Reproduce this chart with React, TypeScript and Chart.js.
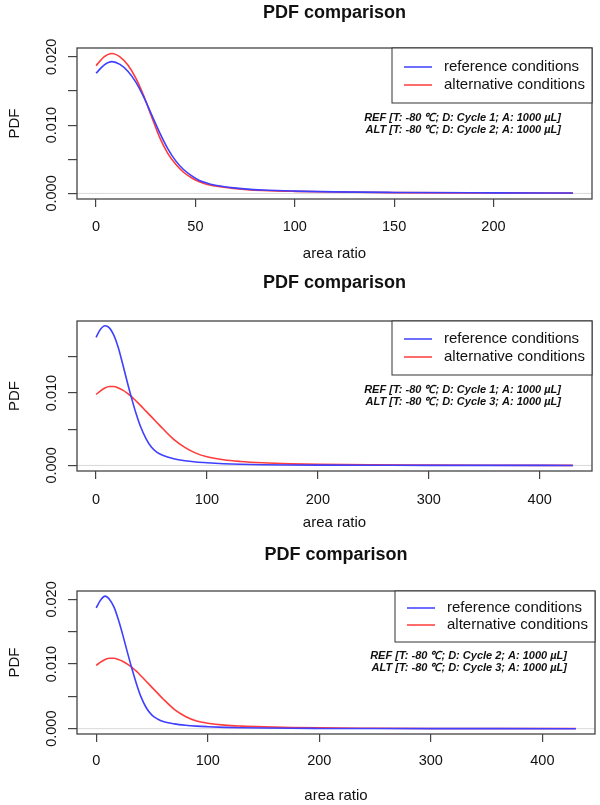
import React, { useEffect, useRef } from "react";
import { Chart, registerables } from "chart.js";

Chart.register(...registerables);

// ---------- data ----------
const p1X = [0, 4, 8, 12, 16, 20, 24, 28, 32, 36, 40, 44, 48, 52, 56, 60, 68, 76, 84, 100, 120, 150, 200, 240];
const p1Ref = [0.0176, 0.0188, 0.0193, 0.0189, 0.0179, 0.0163, 0.0141, 0.0115, 0.0089, 0.0066, 0.0048, 0.0035, 0.0026, 0.0019, 0.0015, 0.0012, 0.00085, 0.00062, 0.00049, 0.00034, 0.00022, 0.00014, 0.00008, 0.00005];
const p1Alt = [0.0187, 0.02, 0.0205, 0.02, 0.0188, 0.0169, 0.0143, 0.0112, 0.0082, 0.0059, 0.0043, 0.0031, 0.0023, 0.0017, 0.0013, 0.0011, 0.00077, 0.00055, 0.00043, 0.0003, 0.0002, 0.00012, 0.00007, 0.00004];

const p2X = [0, 4, 8, 12, 16, 20, 24, 28, 32, 36, 40, 45, 50, 55, 60, 70, 80, 90, 100, 115, 130, 150, 175, 200, 250, 300, 350, 430];
const p2Ref = [0.0177, 0.0188, 0.0193, 0.019, 0.018, 0.0163, 0.014, 0.0116, 0.0093, 0.0072, 0.0054, 0.0037, 0.0025, 0.0018, 0.0014, 0.00092, 0.00064, 0.00047, 0.00036, 0.00024, 0.00016, 0.0001, 0.00006, 0.00004, 0.00002, 0.00001, 0.00001, 0];
const p2Alt = [0.0098, 0.0103, 0.0107, 0.0109, 0.0109, 0.0107, 0.0104, 0.01, 0.0095, 0.0089, 0.0083, 0.0075, 0.0067, 0.0059, 0.0051, 0.0036, 0.0025, 0.0017, 0.0012, 0.00078, 0.00055, 0.00036, 0.00022, 0.00014, 0.00007, 0.00004, 0.00002, 0.00001];

const p3X = [0, 4, 8, 12, 16, 20, 24, 28, 32, 36, 40, 45, 50, 55, 60, 70, 80, 90, 100, 115, 130, 150, 175, 200, 250, 300, 350, 430];
const p3Ref = [0.0187, 0.0199, 0.0205, 0.02, 0.0188, 0.0168, 0.0144, 0.0118, 0.0093, 0.007, 0.005, 0.0032, 0.0021, 0.0015, 0.0011, 0.00075, 0.00054, 0.0004, 0.00031, 0.00021, 0.00015, 0.0001, 0.00006, 0.00004, 0.00002, 0.00001, 0.00001, 0];
const p3Alt = [0.0098, 0.0103, 0.0107, 0.0109, 0.0109, 0.0107, 0.0104, 0.01, 0.0095, 0.0089, 0.0082, 0.0073, 0.0064, 0.0055, 0.0046, 0.003, 0.0019, 0.0012, 0.00085, 0.00055, 0.0004, 0.00028, 0.00018, 0.00012, 0.00007, 0.00004, 0.00003, 0.00002];

const xTicks1 = [0, 50, 100, 150, 200];
const xTicks23 = [0, 100, 200, 300, 400];
const yTicks = [0, 0.005, 0.01, 0.015, 0.02];
const yTickLabels = ["0.000", "", "0.010", "", "0.020"];

const titleText = "PDF comparison";
const xTitle = "area ratio";
const yTitle = "PDF";
const seriesNames = ["reference conditions", "alternative conditions"];
const ann1 = ["REF [T: -80 \u2103; D: Cycle 1; A: 1000 \u00b5L]", "ALT [T: -80 \u2103; D: Cycle 2; A: 1000 \u00b5L]"];
const ann2 = ["REF [T: -80 \u2103; D: Cycle 1; A: 1000 \u00b5L]", "ALT [T: -80 \u2103; D: Cycle 3; A: 1000 \u00b5L]"];
const ann3 = ["REF [T: -80 \u2103; D: Cycle 2; A: 1000 \u00b5L]", "ALT [T: -80 \u2103; D: Cycle 3; A: 1000 \u00b5L]"];

// ---------- style ----------
const FONT = '"Liberation Sans", Arial, Helvetica, sans-serif';
const BLUE = "#3f3fff";
const RED = "#ff3b3b";
const AXIS = "#444";

type PanelCfg = {
  top: number;
  height: number;
  box: { left: number; right: number; top: number; bottom: number };
  xMin: number; xMax: number; yMin: number; yMax: number;
  xTicks: number[];
  x: number[]; ref: number[]; alt: number[];
  ann: string[];
  titleY: number; xLabelY: number; xTitleY: number;
  legH: number; legY: [number, number];
  annRight: number; annY: [number, number];
};

const panels: PanelCfg[] = [
  {
    top: 0, height: 268,
    box: { left: 77, right: 592, top: 48, bottom: 199 },
    xMin: -9.6, xMax: 249.6, yMin: -0.00082, yMax: 0.0213,
    xTicks: xTicks1, x: p1X, ref: p1Ref, alt: p1Alt, ann: ann1,
    titleY: 13, xLabelY: 227, xTitleY: 254,
    legH: 55, legY: [19, 37], annRight: 31, annY: [70, 82],
  },
  {
    top: 268, height: 270,
    box: { left: 77, right: 592, top: 321, bottom: 471 },
    xMin: -17.2, xMax: 447.2, yMin: -0.00077, yMax: 0.01995,
    xTicks: xTicks23, x: p2X, ref: p2Ref, alt: p2Alt, ann: ann2,
    titleY: 283, xLabelY: 500, xTitleY: 523,
    legH: 54, legY: [18, 36], annRight: 31, annY: [69, 81],
  },
  {
    top: 538, height: 267,
    box: { left: 77, right: 595, top: 591, bottom: 734 },
    xMin: -17.2, xMax: 447.2, yMin: -0.00082, yMax: 0.0213,
    xTicks: xTicks23, x: p3X, ref: p3Ref, alt: p3Alt, ann: ann3,
    titleY: 555, xLabelY: 761, xTitleY: 796,
    legH: 51, legY: [17, 34], annRight: 28, annY: [65, 77],
  },
];

function Panel({ cfg }: { cfg: PanelCfg }) {
  const ref = useRef<HTMLCanvasElement | null>(null);

  useEffect(() => {
    if (!ref.current) return;
    const c = cfg;
    const lineH = 14.5 * 1.2;
    const xPad = c.xLabelY - c.box.bottom - 8 - lineH / 2;

    const decor = {
      id: "decor",
      beforeDatasetsDraw(chart: any) {
        const { ctx, chartArea } = chart;
        const y0 = chart.scales.y.getPixelForValue(0);
        ctx.save();
        ctx.strokeStyle = "#d8d8d8";
        ctx.lineWidth = 1;
        ctx.beginPath();
        ctx.moveTo(chartArea.left, y0);
        ctx.lineTo(chartArea.right, y0);
        ctx.stroke();
        ctx.restore();
      },
      afterDraw(chart: any) {
        const { ctx, chartArea } = chart;
        const a = chartArea;
        const oy = c.top;
        ctx.save();
        // box
        ctx.strokeStyle = AXIS;
        ctx.lineWidth = 1.3;
        ctx.strokeRect(a.left, a.top, a.right - a.left, a.bottom - a.top);

        ctx.fillStyle = "#111";
        // title
        ctx.font = `bold 18px ${FONT}`;
        ctx.textAlign = "center";
        ctx.textBaseline = "middle";
        ctx.fillText(titleText, (a.left + a.right) / 2, c.titleY - oy);

        // x title
        ctx.font = `15px ${FONT}`;
        ctx.fillText(xTitle, (a.left + a.right) / 2, c.xTitleY - oy);

        // y title
        ctx.save();
        ctx.translate(15, (a.top + a.bottom) / 2);
        ctx.rotate(-Math.PI / 2);
        ctx.fillText(yTitle, 0, 0);
        ctx.restore();

        // y tick labels (rotated, R style)
        ctx.font = `14.5px ${FONT}`;
        const ys = chart.scales.y;
        yTicks.forEach((v, i) => {
          const lab = yTickLabels[i];
          if (!lab || v < c.yMin || v > c.yMax) return;
          const py = ys.getPixelForValue(v);
          ctx.save();
          ctx.translate(52, py);
          ctx.rotate(-Math.PI / 2);
          ctx.fillText(lab, 0, 0);
          ctx.restore();
        });

        // legend
        const legW = 200;
        const lx = a.right - legW;
        ctx.strokeStyle = "#333";
        ctx.lineWidth = 1;
        ctx.fillStyle = "#fff";
        ctx.fillRect(lx, a.top, legW, c.legH);
        ctx.strokeRect(lx, a.top, legW, c.legH);
        ctx.font = `15px ${FONT}`;
        ctx.textAlign = "left";
        [BLUE, RED].forEach((col, i) => {
          const yy = a.top + c.legY[i];
          ctx.strokeStyle = col;
          ctx.lineWidth = 1.5;
          ctx.beginPath();
          ctx.moveTo(lx + 12, yy);
          ctx.lineTo(lx + 40, yy);
          ctx.stroke();
          ctx.fillStyle = "#111";
          ctx.fillText(seriesNames[i], lx + 52, yy);
        });

        // annotation
        ctx.font = `italic bold 11px ${FONT}`;
        ctx.textAlign = "right";
        c.ann.forEach((t, i) => {
          ctx.fillText(t, a.right - c.annRight, a.top + c.annY[i]);
        });
        ctx.restore();
      },
    };

    const chart = new Chart(ref.current, {
      type: "line",
      data: {
        datasets: [
          {
            label: seriesNames[0],
            data: c.x.map((x, i) => ({ x, y: c.ref[i] })),
            borderColor: BLUE,
            borderWidth: 1.6,
            pointRadius: 0,
            cubicInterpolationMode: "monotone",
            fill: false,
          },
          {
            label: seriesNames[1],
            data: c.x.map((x, i) => ({ x, y: c.alt[i] })),
            borderColor: RED,
            borderWidth: 1.6,
            pointRadius: 0,
            cubicInterpolationMode: "monotone",
            fill: false,
          },
        ],
      },
      options: {
        animation: false,
        responsive: false,
        layout: {
          padding: { left: 0, right: 600 - c.box.right, top: c.box.top - c.top, bottom: 0 },
        },
        plugins: {
          legend: { display: false },
          title: { display: false },
          tooltip: { enabled: false },
        },
        scales: {
          x: {
            type: "linear",
            min: c.xMin,
            max: c.xMax,
            afterBuildTicks: (s: any) => {
              s.ticks = c.xTicks.map((v) => ({ value: v }));
            },
            afterFit: (s: any) => {
              s.height = c.top + c.height - c.box.bottom;
            },
            grid: { drawOnChartArea: false, drawTicks: true, tickLength: 8, color: AXIS, lineWidth: 1.2 },
            border: { display: false },
            ticks: {
              autoSkip: false,
              maxRotation: 0,
              minRotation: 0,
              padding: xPad,
              color: "#111",
              font: { family: FONT, size: 14.5 },
              callback: (v: any) => String(v),
            },
          },
          y: {
            type: "linear",
            min: c.yMin,
            max: c.yMax,
            afterBuildTicks: (s: any) => {
              s.ticks = yTicks.filter((v) => v >= c.yMin && v <= c.yMax).map((v) => ({ value: v }));
            },
            afterFit: (s: any) => {
              s.width = c.box.left;
            },
            grid: { drawOnChartArea: false, drawTicks: true, tickLength: 9, color: AXIS, lineWidth: 1.2 },
            border: { display: false },
            ticks: { display: false },
          },
        },
      },
      plugins: [decor],
    } as any);

    return () => chart.destroy();
  }, [cfg]);

  return (
    <canvas
      ref={ref}
      width={600}
      height={cfg.height}
      style={{ position: "absolute", left: 0, top: cfg.top, width: 600, height: cfg.height }}
    />
  );
}

export default function App() {
  return (
    <div style={{ position: "absolute", left: 0, top: 0, width: 600, height: 805, background: "#fff" }}>
      {panels.map((p, i) => (
        <Panel key={i} cfg={p} />
      ))}
    </div>
  );
}
